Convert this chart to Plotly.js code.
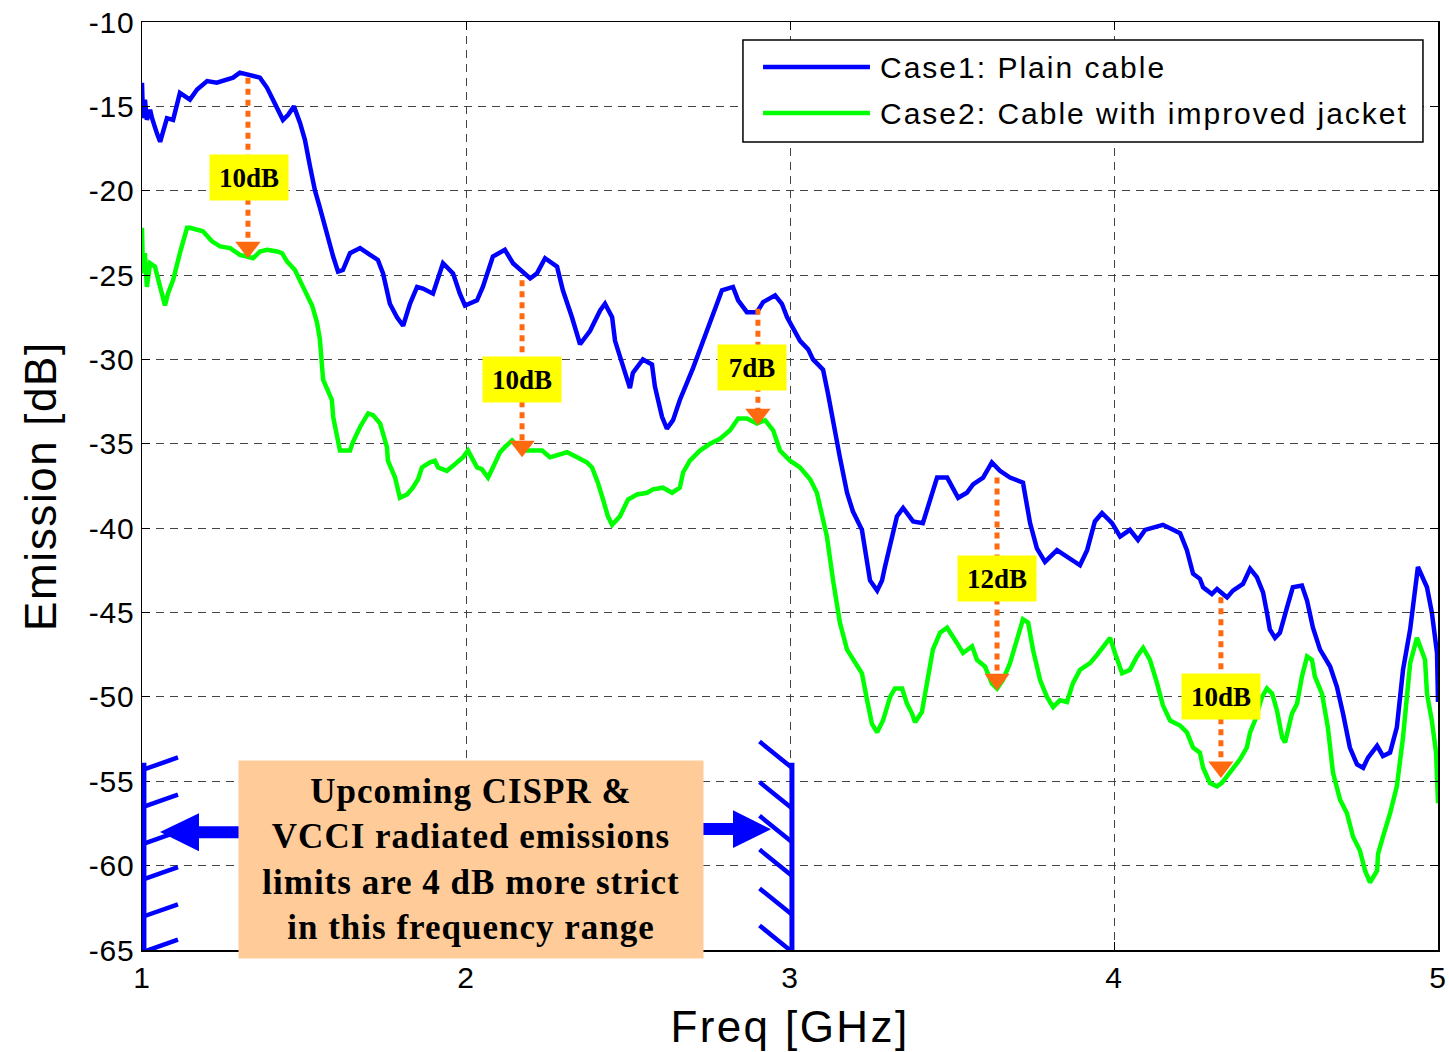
<!DOCTYPE html>
<html>
<head>
<meta charset="utf-8">
<script src="https://cdn.plot.ly/plotly-3.0.1.min.js"></script>
<style>
  body { margin: 0; background: #fff; }
  #chart { width: 1449px; height: 1052px; }
  .xtitle { letter-spacing: 2.4px; }
  .ytitle { letter-spacing: 1.6px; }
  .xtick text, .ytick text { letter-spacing: 0.8px; }
</style>
</head>
<body>
<div id="chart"></div>
<script>
// Case1: plain cable (blue)
const freq1 = [1.000, 1.003, 1.009, 1.015, 1.025, 1.031, 1.046, 1.056, 1.077, 1.096, 1.117, 1.148, 1.170, 1.201, 1.231, 1.250,
  1.281, 1.302, 1.327, 1.364, 1.386, 1.404, 1.420, 1.435, 1.451, 1.469, 1.488, 1.503, 1.519, 1.534, 1.549, 1.571, 1.590,
  1.605, 1.620, 1.642, 1.673, 1.704, 1.728, 1.744, 1.765, 1.787, 1.806, 1.827, 1.849, 1.867, 1.898, 1.929, 1.960, 1.981,
  1.997, 2.034, 2.052, 2.083, 2.120, 2.145, 2.198, 2.219, 2.244, 2.281, 2.299, 2.327, 2.352, 2.383, 2.414, 2.429, 2.451,
  2.460, 2.485, 2.506, 2.515, 2.546, 2.574, 2.583, 2.605, 2.620, 2.639, 2.660, 2.701, 2.744, 2.762, 2.790, 2.824, 2.840,
  2.867, 2.898, 2.917, 2.954, 2.975, 2.991, 3.031, 3.056, 3.071, 3.102, 3.117, 3.133, 3.154, 3.176, 3.194, 3.222, 3.231,
  3.247, 3.269, 3.284, 3.293, 3.309, 3.330, 3.349, 3.380, 3.410, 3.432, 3.454, 3.485, 3.503, 3.519, 3.546, 3.565, 3.596,
  3.623, 3.648, 3.679, 3.719, 3.741, 3.762, 3.787, 3.824, 3.855, 3.895, 3.917, 3.941, 3.963, 3.994, 4.019, 4.049, 4.074,
  4.096, 4.151, 4.204, 4.225, 4.244, 4.265, 4.275, 4.302, 4.318, 4.349, 4.367, 4.398, 4.420, 4.441, 4.460, 4.472, 4.481,
  4.497, 4.512, 4.534, 4.552, 4.580, 4.596, 4.614, 4.636, 4.667, 4.688, 4.707, 4.728, 4.750, 4.769, 4.784, 4.812, 4.830,
  4.852, 4.873, 4.892, 4.914, 4.938, 4.966, 4.981, 4.997, 5.000];
const emis1 = [-13.6, -15.7, -14.6, -15.8, -15.2, -15.7, -16.6, -17.1, -15.7, -15.8, -14.2, -14.6, -14.0, -13.5, -13.6, -13.5,
  -13.3, -13.0, -13.1, -13.3, -13.9, -14.6, -15.3, -15.8, -15.5, -15.0, -16.0, -17.0, -18.6, -20.0, -21.0, -22.7, -23.9,
  -24.8, -24.7, -23.7, -23.4, -23.8, -24.1, -24.9, -26.7, -27.5, -28.0, -26.7, -25.7, -25.8, -26.1, -24.3, -24.9, -26.1,
  -26.8, -26.5, -25.7, -23.9, -23.5, -24.3, -25.2, -24.9, -24.0, -24.5, -25.9, -27.5, -29.1, -28.3, -27.1, -26.7, -27.5,
  -28.9, -30.5, -31.7, -30.8, -30.0, -30.3, -31.6, -33.4, -34.1, -33.6, -32.4, -30.5, -28.3, -27.2, -25.9, -25.7, -26.5,
  -27.2, -27.2, -26.6, -26.2, -26.7, -27.5, -28.9, -29.4, -30.0, -30.6, -32.0, -33.8, -35.8, -37.9, -39.0, -40.1, -41.3,
  -43.1, -43.7, -43.1, -42.3, -41.1, -39.3, -38.8, -39.6, -39.7, -38.3, -37.0, -37.0, -37.6, -38.2, -37.9, -37.4, -37.0,
  -36.1, -36.6, -37.0, -37.3, -39.7, -41.2, -42.0, -41.3, -41.7, -42.2, -41.3, -39.6, -39.1, -39.7, -40.5, -40.1, -40.7,
  -40.1, -39.8, -40.3, -41.3, -42.7, -43.0, -43.5, -43.9, -43.6, -44.1, -43.7, -43.3, -42.4, -42.9, -43.8, -45.0, -46.0,
  -46.5, -46.2, -44.7, -43.5, -43.4, -44.3, -45.9, -47.2, -48.2, -49.4, -51.0, -53.0, -54.0, -54.2, -53.6, -52.9, -53.5,
  -53.3, -51.8, -48.4, -46.0, -42.3, -43.5, -45.0, -47.4, -50.3];

// Case2: cable with improved jacket (green)
const freq2 = [1.000, 1.003, 1.009, 1.015, 1.025, 1.040, 1.056, 1.071, 1.080, 1.096, 1.117, 1.139, 1.148, 1.164, 1.188, 1.216,
  1.241, 1.272, 1.302, 1.324, 1.343, 1.364, 1.386, 1.417, 1.432, 1.448, 1.472, 1.497, 1.525, 1.540, 1.549, 1.559, 1.586,
  1.590, 1.602, 1.611, 1.642, 1.651, 1.673, 1.698, 1.713, 1.735, 1.756, 1.759, 1.781, 1.796, 1.818, 1.836, 1.852, 1.864,
  1.889, 1.904, 1.914, 1.941, 1.960, 1.991, 2.006, 2.034, 2.049, 2.068, 2.083, 2.105, 2.120, 2.142, 2.173, 2.207, 2.235,
  2.259, 2.281, 2.312, 2.343, 2.373, 2.389, 2.407, 2.423, 2.438, 2.451, 2.475, 2.500, 2.528, 2.559, 2.577, 2.608, 2.636,
  2.660, 2.670, 2.691, 2.722, 2.753, 2.784, 2.815, 2.840, 2.867, 2.898, 2.923, 2.948, 2.969, 3.000, 3.031, 3.062, 3.083,
  3.099, 3.114, 3.133, 3.154, 3.176, 3.201, 3.222, 3.238, 3.253, 3.269, 3.287, 3.309, 3.324, 3.346, 3.361, 3.377, 3.386,
  3.407, 3.426, 3.441, 3.463, 3.485, 3.515, 3.534, 3.562, 3.577, 3.602, 3.623, 3.639, 3.657, 3.679, 3.701, 3.719, 3.735,
  3.750, 3.772, 3.793, 3.812, 3.833, 3.855, 3.873, 3.895, 3.926, 3.948, 3.966, 3.988, 4.003, 4.025, 4.049, 4.071, 4.090,
  4.111, 4.133, 4.151, 4.173, 4.204, 4.225, 4.244, 4.265, 4.275, 4.296, 4.318, 4.333, 4.358, 4.389, 4.410, 4.420, 4.435,
  4.457, 4.472, 4.488, 4.503, 4.519, 4.528, 4.537, 4.549, 4.565, 4.580, 4.596, 4.611, 4.620, 4.642, 4.660, 4.676, 4.698,
  4.719, 4.738, 4.759, 4.775, 4.790, 4.812, 4.815, 4.830, 4.852, 4.873, 4.892, 4.914, 4.935, 4.960, 4.966, 4.981, 4.994,
  5.000];
const emis2 = [-22.2, -24.9, -23.7, -25.7, -24.3, -24.5, -25.7, -26.8, -26.1, -25.3, -23.7, -22.2, -22.2, -22.3, -22.4, -23.0,
  -23.3, -23.4, -23.8, -23.9, -24.0, -23.6, -23.5, -23.6, -23.7, -24.2, -24.7, -25.7, -26.8, -27.8, -28.8, -31.2, -32.4,
  -33.4, -34.6, -35.4, -35.4, -34.9, -34.0, -33.2, -33.3, -33.8, -35.2, -36.0, -37.0, -38.2, -38.0, -37.6, -37.1, -36.4,
  -36.1, -36.0, -36.4, -36.6, -36.3, -35.8, -35.4, -36.4, -36.5, -37.0, -36.4, -35.5, -35.2, -34.8, -35.4, -35.4, -35.4,
  -35.8, -35.7, -35.5, -35.8, -36.1, -36.4, -37.3, -38.3, -39.3, -39.8, -39.3, -38.3, -38.0, -37.9, -37.7, -37.6, -37.9,
  -37.6, -36.7, -36.0, -35.4, -35.0, -34.7, -34.2, -33.5, -33.5, -33.8, -33.6, -34.2, -35.4, -36.0, -36.4, -37.1, -37.9,
  -39.3, -40.5, -43.1, -45.6, -47.2, -48.0, -48.6, -50.2, -51.6, -52.1, -51.4, -50.0, -49.5, -49.5, -50.4, -51.0, -51.5,
  -50.9, -48.8, -47.2, -46.2, -45.9, -46.8, -47.4, -47.0, -47.8, -48.2, -49.2, -49.5, -49.0, -48.0, -46.6, -45.4, -45.6,
  -47.2, -49.0, -50.0, -50.6, -50.2, -50.3, -49.2, -48.4, -48.0, -47.5, -47.0, -46.5, -47.4, -48.6, -48.4, -47.6, -47.1,
  -47.8, -49.2, -50.5, -51.4, -51.7, -52.1, -53.0, -53.3, -54.2, -55.1, -55.3, -55.1, -54.5, -53.7, -53.0, -52.1, -51.4,
  -50.0, -49.5, -49.8, -50.8, -52.4, -52.7, -52.0, -51.0, -50.4, -48.8, -47.6, -47.8, -48.8, -49.8, -51.8, -54.5, -56.1,
  -56.9, -58.3, -59.1, -60.3, -61.0, -60.3, -59.3, -58.3, -56.9, -55.3, -52.4, -48.0, -46.5, -47.8, -49.8, -51.4, -53.3,
  -56.3];

const seriesNames = ['Case1: Plain cable', 'Case2: Cable with improved jacket'];
const seriesColors = ['#0000FF', '#00FF00'];

// gap markers: frequency, top of arrow (blue), tip of arrow (green), label
const gapFreq = [1.327, 2.173, 2.901, 3.639, 4.330];
const gapTop = [-13.3, -25.3, -27.0, -37.0, -44.1];
const gapTip = [-24.0, -35.8, -33.9, -49.6, -54.8];
const gapLabel = ['10dB', '10dB', '7dB', '12dB', '10dB'];
const gapLabelFreq = [1.330, 2.173, 2.883, 3.639, 4.330];
const gapLabelY = [-19.2, -31.2, -30.45, -43.0, -50.0];
const gapLabelW = [78, 78, 68, 78, 78];

const xTicks = [1, 2, 3, 4, 5];
const yTicks = [-65, -60, -55, -50, -45, -40, -35, -30, -25, -20, -15, -10];
const yTickText = ['-65', '-60', '-55', '-50', '-45', '-40', '-35', '-30', '-25', '-20', '-15', '-10'];

const noteLines = ['Upcoming CISPR &amp;', 'VCCI radiated emissions', 'limits are 4 dB more strict', 'in this frequency range'];
const bandEdges = [1.006, 3.006];

const orange = '#FF6A10';
const headOffset = 0.65; // dB, marker centre above arrow tip

// dotted arrow shafts
const shaftX = [], shaftY = [];
gapFreq.forEach((f, i) => {
  shaftX.push(f, f, null);
  shaftY.push(gapTop[i], gapTip[i] + headOffset, null);
});

const traces = [
  { x: freq1, y: emis1, type: 'scatter', mode: 'lines', name: seriesNames[0],
    line: { color: seriesColors[0], width: 4.5 }, hoverinfo: 'skip' },
  { x: freq2, y: emis2, type: 'scatter', mode: 'lines', name: seriesNames[1],
    line: { color: seriesColors[1], width: 4.5 }, hoverinfo: 'skip' },
  { x: shaftX, y: shaftY, type: 'scatter', mode: 'lines', showlegend: false,
    line: { color: orange, width: 5, dash: '6px,5px' }, hoverinfo: 'skip' },
  { x: gapFreq, y: gapTip.map(v => v + headOffset), type: 'scatter', mode: 'markers', showlegend: false,
    marker: { symbol: 'triangle-down', size: 22, color: orange }, hoverinfo: 'skip' }
];

const serif = '"Times New Roman", "Liberation Serif", serif';
const sans = 'Arial, "Liberation Sans", sans-serif';
const spaced = (t, px) => '<span style="letter-spacing:' + px + 'px">' + t + '</span>';

const annotations = gapLabel.map((t, i) => ({
  x: gapLabelFreq[i], y: gapLabelY[i], xref: 'x', yref: 'y',
  text: '<b>' + t + '</b>', showarrow: false,
  font: { family: serif, size: 27, color: '#000' },
  bgcolor: '#FFFF00', width: gapLabelW[i], height: 45, borderpad: 0
}));

annotations.push({
  x: 2.015, y: -59.64, xref: 'x', yref: 'y', showarrow: false,
  text: noteLines.map(l => '<b>' + spaced(l, 1) + '</b>').join('<br>'),
  font: { family: serif, size: 35, color: '#000' },
  bgcolor: '#FFCC99', width: 464, height: 197, borderpad: 0, align: 'center'
});

// legend built by hand (long line samples)
const legendRows = [0.9515, 0.9019];
seriesNames.forEach((n, i) => {
  annotations.push({
    x: 0.5679, y: legendRows[i], xref: 'paper', yref: 'paper', xanchor: 'left', yanchor: 'middle',
    text: spaced(n, 2), showarrow: false, font: { family: sans, size: 30, color: '#000' }
  });
});

const shapes = [
  { type: 'rect', xref: 'paper', yref: 'paper', x0: 0.4637, x1: 0.9884, y0: 0.8707, y1: 0.9806,
    fillcolor: '#fff', line: { color: '#000', width: 1.5 }, layer: 'above' }
];
seriesColors.forEach((c, i) => {
  shapes.push({ type: 'line', xref: 'paper', yref: 'paper', x0: 0.4792, x1: 0.5617,
    y0: legendRows[i], y1: legendRows[i], line: { color: c, width: 4.5 }, layer: 'above' });
});

// hatched band limits at 1 GHz and 3 GHz
const blue = '#0000FF';
shapes.push({ type: 'line', xref: 'x', yref: 'y', x0: bandEdges[0], x1: bandEdges[0], y0: -53.9, y1: -65.2,
  line: { color: blue, width: 5 } });
shapes.push({ type: 'line', xref: 'x', yref: 'y', x0: bandEdges[1], x1: bandEdges[1], y0: -53.9, y1: -65.2,
  line: { color: blue, width: 5 } });
[-54.3, -56.5, -58.7, -60.8, -63.0, -65.1].forEach(y => {
  shapes.push({ type: 'line', xref: 'x', yref: 'y', x0: bandEdges[0], x1: bandEdges[0] + 0.105, y0: y, y1: y + 0.71,
    line: { color: blue, width: 4.5 } });
});
[-54.2, -56.6, -58.6, -60.6, -62.9, -65.1].forEach(y => {
  shapes.push({ type: 'line', xref: 'x', yref: 'y', x0: bandEdges[1], x1: bandEdges[1] - 0.1, y0: y, y1: y + 1.55,
    line: { color: blue, width: 4.5 } });
});
// block arrows pointing out of the note box
shapes.push({ type: 'path', xref: 'x', yref: 'y', fillcolor: blue, line: { width: 0 },
  path: 'M1.0556,-58.01 L1.1759,-56.89 L1.1759,-57.66 L1.2994,-57.66 L1.2994,-58.37 L1.1759,-58.37 L1.1759,-59.14 Z' });
shapes.push({ type: 'path', xref: 'x', yref: 'y', fillcolor: blue, line: { width: 0 },
  path: 'M2.9414,-57.84 L2.8241,-56.71 L2.8241,-57.48 L2.7284,-57.48 L2.7284,-58.19 L2.8241,-58.19 L2.8241,-58.96 Z' });

const axisCommon = {
  showline: true, linecolor: '#000', linewidth: 1.5, mirror: 'ticks',
  ticks: 'inside', ticklen: 8, tickcolor: '#000', tickwidth: 1,
  showgrid: true, gridcolor: '#444', gridwidth: 1, griddash: '8px,6px',
  zeroline: false, tickfont: { family: sans, size: 30, color: '#000' }
};

const layout = {
  width: 1449, height: 1052,
  margin: { l: 142, r: 11, t: 22, b: 102 },
  paper_bgcolor: '#fff', plot_bgcolor: '#fff',
  showlegend: false,
  xaxis: Object.assign({}, axisCommon, {
    range: [1, 5], tickvals: xTicks,
    title: { text: 'Freq [GHz]', font: { family: sans, size: 44, color: '#000' }, standoff: 18 }
  }),
  yaxis: Object.assign({}, axisCommon, {
    range: [-65, -10], tickvals: yTicks, ticktext: yTickText,
    title: { text: 'Emission [dB]', font: { family: sans, size: 44, color: '#000' }, standoff: 18 }
  }),
  annotations: annotations,
  shapes: shapes
};

Plotly.newPlot('chart', traces, layout, { staticPlot: true });
</script>
</body>
</html>
